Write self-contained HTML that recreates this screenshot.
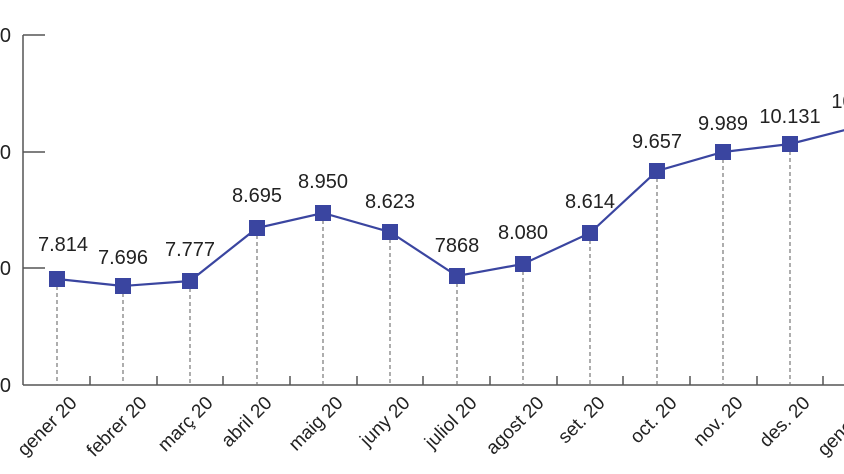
<!DOCTYPE html><html><head><style>body{margin:0;background:#fff}svg{display:block}text{font-family:"Liberation Sans",sans-serif;fill:#222}</style></head><body>
<svg width="844" height="474" viewBox="0 0 844 474">
<g stroke="#555" stroke-width="1.5" fill="none">
<line x1="23" y1="35" x2="23" y2="385"/><line x1="23" y1="385" x2="844" y2="385"/>
<line x1="23" y1="35" x2="45" y2="35"/><line x1="23" y1="152" x2="45" y2="152"/><line x1="23" y1="268" x2="45" y2="268"/>
<path d="M90 385V376M157 385V376M223 385V376M290 385V376M357 385V376M423 385V376M490 385V376M557 385V376M623 385V376M690 385V376M757 385V376M823 385V376"/>
</g>
<g font-size="20" text-anchor="end"><text x="11" y="42">0</text><text x="11" y="159">0</text><text x="11" y="275">0</text><text x="11" y="392">0</text></g>
<g stroke="#777" stroke-width="1.2" stroke-dasharray="4,3">
<path d="M57 279V385M123 286V385M190 281V385M257 228V385M323 213V385M390 232V385M457 276V385M523 264V385M590 233V385M657 171V385M723 152V385M790 144V385"/>
</g>
<polyline fill="none" stroke="#3a45a0" stroke-width="2.2" points="57,279 123,286 190,281 257,228 323,213 390,232 457,276 523,264 590,233 657,171 723,152 790,144 857,127"/>
<g fill="#3a45a0">
<rect x="49" y="271" width="16" height="16"/><rect x="115" y="278" width="16" height="16"/><rect x="182" y="273" width="16" height="16"/><rect x="249" y="220" width="16" height="16"/><rect x="315" y="205" width="16" height="16"/><rect x="382" y="224" width="16" height="16"/><rect x="449" y="268" width="16" height="16"/><rect x="515" y="256" width="16" height="16"/><rect x="582" y="225" width="16" height="16"/><rect x="649" y="163" width="16" height="16"/><rect x="715" y="144" width="16" height="16"/><rect x="782" y="136" width="16" height="16"/>
</g>
<g font-size="20" text-anchor="middle">
<text x="63" y="251">7.814</text><text x="123" y="264">7.696</text><text x="190" y="256">7.777</text><text x="257" y="202">8.695</text><text x="323" y="188">8.950</text><text x="390" y="208">8.623</text><text x="457" y="252">7868</text><text x="523" y="239">8.080</text><text x="590" y="208">8.614</text><text x="657" y="148">9.657</text><text x="723" y="130">9.989</text><text x="790" y="123">10.131</text><text x="862" y="108">10.431</text>
</g>
<g font-size="19" text-anchor="end">
<text transform="translate(78,404) rotate(-45)">gener 20</text>
<text transform="translate(148,404) rotate(-45)">febrer 20</text>
<text transform="translate(214,404) rotate(-45)">març 20</text>
<text transform="translate(273,404) rotate(-45)">abril 20</text>
<text transform="translate(344,404) rotate(-45)">maig 20</text>
<text transform="translate(411,404) rotate(-45)">juny 20</text>
<text transform="translate(478,404) rotate(-45)">juliol 20</text>
<text transform="translate(545,404) rotate(-45)">agost 20</text>
<text transform="translate(606,404) rotate(-45)">set. 20</text>
<text transform="translate(678,404) rotate(-45)">oct. 20</text>
<text transform="translate(744,404) rotate(-45)">nov. 20</text>
<text transform="translate(811,404) rotate(-45)">des. 20</text>
<text transform="translate(878,404) rotate(-45)">gener 21</text>
</g>
</svg></body></html>
